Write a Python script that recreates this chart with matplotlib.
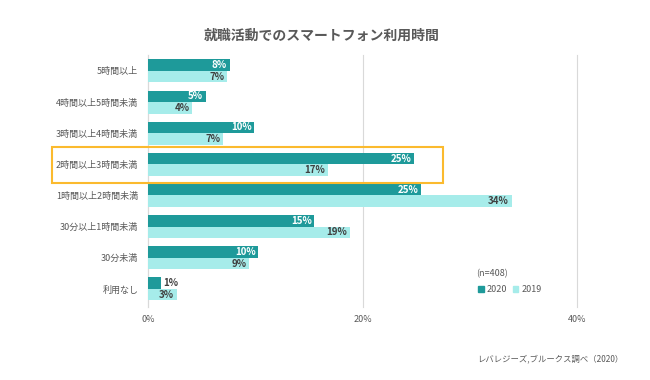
import matplotlib
matplotlib.use("Agg")
import matplotlib.pyplot as plt
from matplotlib.patches import Rectangle, Patch

plt.rcParams['font.family'] = ['Noto Sans CJK JP', 'DejaVu Sans']

categories = ["5時間以上", "4時間以上5時間未満", "3時間以上4時間未満", "2時間以上3時間未満",
              "1時間以上2時間未満", "30分以上1時間未満", "30分未満", "利用なし"]
values_2020 = [7.6, 5.4, 9.9, 24.8, 25.5, 15.5, 10.3, 1.2]
values_2019 = [7.4, 4.1, 7.0, 16.8, 33.9, 18.8, 9.4, 2.7]
labels_2020 = ["8%", "5%", "10%", "25%", "25%", "15%", "10%", "1%"]
labels_2019 = ["7%", "4%", "7%", "17%", "34%", "19%", "9%", "3%"]
xticks = [0, 20, 40]
xtick_labels = ["0%", "20%", "40%"]

c2020 = "#1E9A9A"
c2019 = "#A6ECEA"
txt = "#595959"

fig = plt.figure(figsize=(6.5, 3.8), dpi=100)
ax = fig.add_axes([148/650, 1-307/380, (577-148)/650, (307-55)/380])

h = 0.37
ys = list(range(len(categories)))
ax.barh([y - h/2 for y in ys], values_2020, height=h, color=c2020, zorder=3)
ax.barh([y + h/2 for y in ys], values_2019, height=h, color=c2019, zorder=3)

for y, v, lab in zip(ys, values_2020, labels_2020):
    if v >= 3:
        ax.text(v - 0.25, y - h/2, lab, ha='right', va='center', color='white',
                fontsize=7, fontweight='bold', zorder=4)
    else:
        ax.text(v + 0.25, y - h/2, lab, ha='left', va='center', color='#404040',
                fontsize=7, fontweight='bold', zorder=4)
for y, v, lab in zip(ys, values_2019, labels_2019):
    ax.text(v - 0.25, y + h/2, lab, ha='right', va='center', color='#404040',
            fontsize=7, fontweight='bold', zorder=4)

ax.set_xlim(0, 40)
ax.set_ylim(7.58, -0.51)
ax.set_xticks(xticks)
ax.set_xticklabels(xtick_labels, fontsize=6.5, color=txt)
ax.set_yticks(ys)
ax.set_yticklabels(categories, fontsize=6.5, color=txt)
ax.tick_params(axis='both', length=0)
ax.tick_params(axis='x', pad=6)
ax.tick_params(axis='y', pad=7)
for s in ['top', 'right', 'bottom']:
    ax.spines[s].set_visible(False)
ax.spines['left'].set_color('#D9D9D9')
ax.grid(axis='x', color='#D9D9D9', linewidth=0.8, zorder=0)
for gl in ax.get_xgridlines():
    gl.set_clip_on(False)
ax.set_axisbelow(True)

fig.text(322/650, 1-36/380, "就職活動でのスマートフォン利用時間", ha='center', va='center',
         fontsize=10, fontweight='bold', color='#595959')

# highlight box
fig.patches.append(Rectangle((52/650, 1-183/380), (443-52)/650, (183-147)/380,
                             transform=fig.transFigure, fill=False,
                             edgecolor='#FBBA2E', linewidth=1.5, zorder=10))

fig.text(476/650, 1-274/380, "(n=408)", ha='left', va='center', fontsize=6.5, color=txt)
handles = [Patch(color=c2020, label="2020"), Patch(color=c2019, label="2019")]
fig.legend(handles=handles, loc='center left', bbox_to_anchor=(470/650, 1-290/380),
           ncol=2, frameon=False, fontsize=6.5, handlelength=0.6, handleheight=0.6,
           handletextpad=0.3, columnspacing=0.7, labelcolor=txt)

fig.text(477/650, 1-359/380, "レバレジーズ,ブルークス調べ（2020）", ha='left', va='center',
         fontsize=6, color=txt)

fig.savefig("out.png", dpi=100)
